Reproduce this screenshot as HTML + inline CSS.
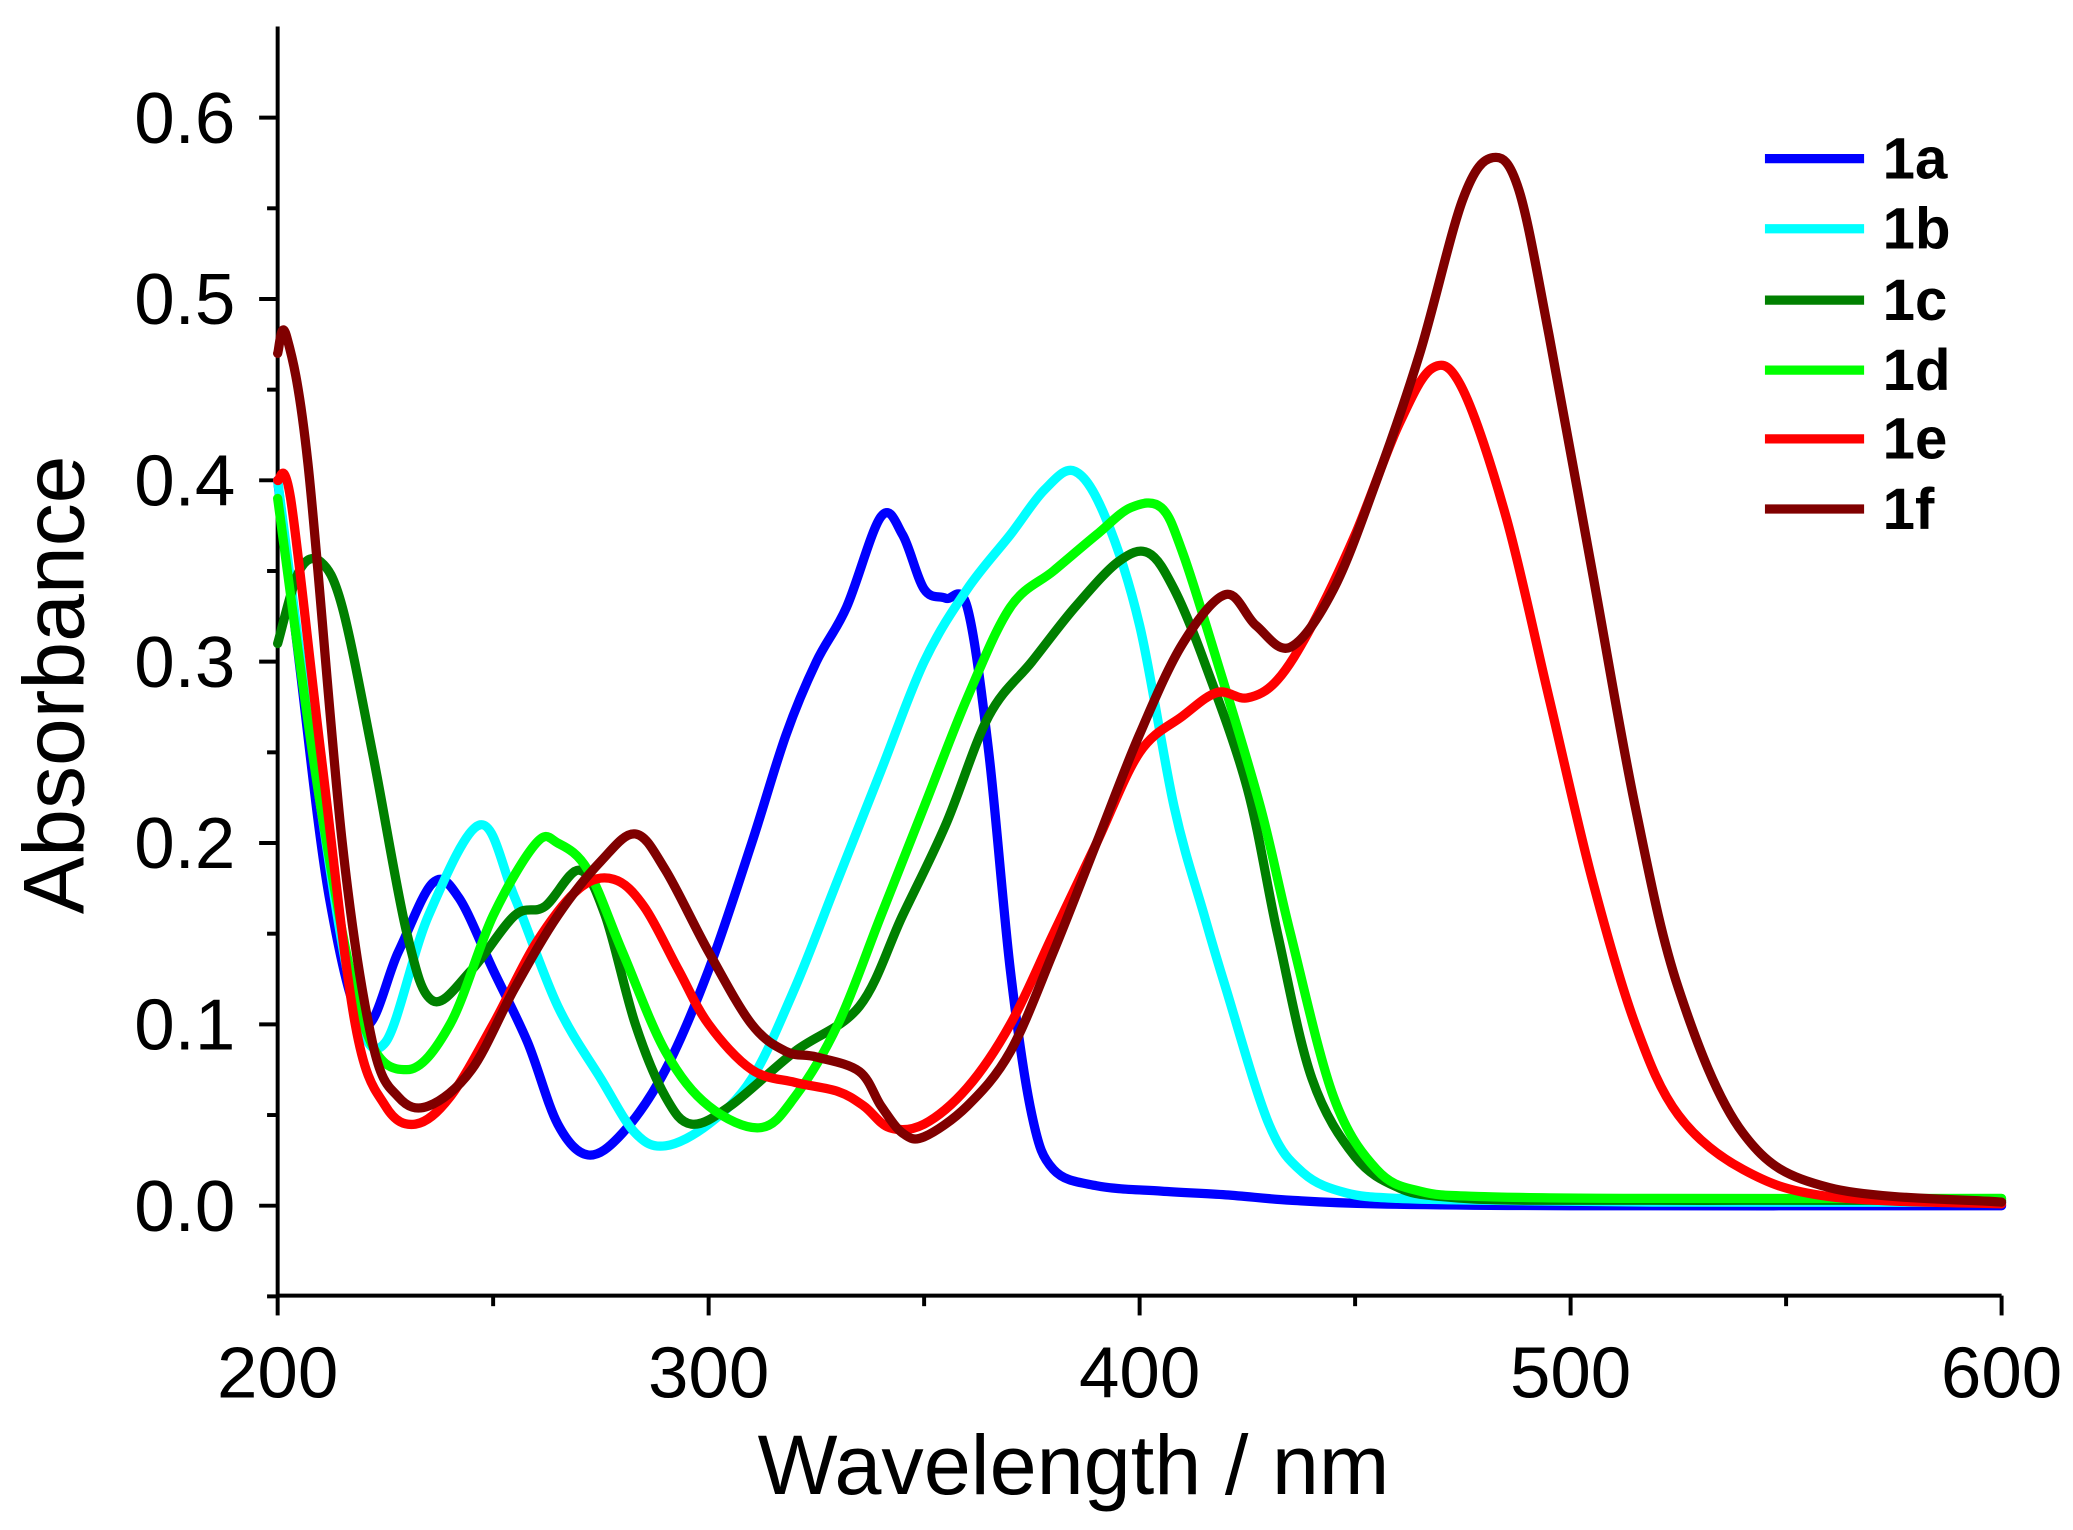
<!DOCTYPE html>
<html><head><meta charset="utf-8"><style>
html,body{margin:0;padding:0;background:#fff;}
svg{display:block;}
text{font-family:"Liberation Sans",Arial,sans-serif;fill:#000;}
</style></head><body>
<svg id="s" width="2073" height="1530" viewBox="0 0 1568 1157.3" xmlns="http://www.w3.org/2000/svg">
<g id="axes" stroke="#000" stroke-width="3" fill="none"></g>
<g id="labels" font-size="55" text-anchor="end"></g>
<text x="812" y="1130" font-size="64" text-anchor="middle">Wavelength / nm</text>
<text transform="translate(63,518) rotate(-90)" font-size="65" text-anchor="middle">Absorbance</text>
<g id="curves" fill="none" stroke-width="7" stroke-linejoin="round" stroke-linecap="round"></g>
<g id="legend" font-size="44" font-weight="bold"></g>
</svg>
<script>
var NS="http://www.w3.org/2000/svg";
function X(n){return 210+(n-200)*3.26;}
function Y(a){return 912-a*1371.7;}
function el(p,t,at,txt){var e=document.createElementNS(NS,t);for(var k in at)e.setAttribute(k,at[k]);if(txt!==undefined)e.textContent=txt;p.appendChild(e);return e;}
var ax=document.getElementById('axes'),lb=document.getElementById('labels');
el(ax,'line',{x1:210,y1:20,x2:210,y2:981});
el(ax,'line',{x1:209,y1:980,x2:1514,y2:980});
for(var i=0;i<=6;i++){var y=Y(i/10);el(ax,'line',{x1:196,y1:y,x2:210,y2:y});el(lb,'text',{x:178,y:y+19},(i/10).toFixed(1));}
for(var i=-1;i<=12;i+=2){var y=Y(i/20);if(y>20)el(ax,'line',{x1:202,y1:y,x2:210,y2:y});}
for(var n=200;n<=600;n+=50){var x=X(n);var maj=n%100==0;el(ax,'line',{x1:x,y1:980,x2:x,y2:maj?995:988});if(maj)el(document.getElementById('s'),'text',{x:x,y:1057,'font-size':55,'text-anchor':'middle'},n);}
var D={
'#0000ff':[200,0.40,205,0.3,212,0.17,220,0.1,228,0.14,236,0.178,242,0.17,250,0.13,258,0.09,265,0.045,272,0.028,280,0.04,290,0.075,300,0.13,310,0.2,318,0.26,325,0.3,332,0.33,340,0.38,345,0.37,350,0.34,355,0.335,360,0.33,365,0.25,370,0.13,375,0.05,380,0.02,390,0.011,405,0.008,420,0.006,435,0.003,455,0.001,500,0.0,600,0],
'#00ffff':[200,0.4,210,0.22,218,0.11,225,0.09,235,0.16,247,0.21,255,0.17,265,0.11,275,0.07,283,0.04,290,0.033,300,0.045,310,0.07,320,0.12,330,0.18,340,0.24,350,0.3,360,0.34,370,0.37,378,0.395,385,0.405,392,0.38,400,0.32,408,0.22,415,0.16,420,0.12,430,0.045,438,0.018,448,0.007,460,0.004,480,0.003,520,0.002,600,0.002],
'#008000':[200,0.31,205,0.35,210,0.355,215,0.33,222,0.25,230,0.15,236,0.113,245,0.13,255,0.16,262,0.165,270,0.185,276,0.16,283,0.1,290,0.06,296,0.045,305,0.055,320,0.085,335,0.11,345,0.16,355,0.21,365,0.27,375,0.3,385,0.33,395,0.355,402,0.36,408,0.34,415,0.3,425,0.23,432,0.15,440,0.07,450,0.027,460,0.01,470,0.005,490,0.003,540,0.003,600,0.003],
'#00ff00':[200,0.39,210,0.22,220,0.1,230,0.075,240,0.1,250,0.16,260,0.2,265,0.2,272,0.185,280,0.14,290,0.085,300,0.055,312,0.043,320,0.06,330,0.1,340,0.16,350,0.22,360,0.28,370,0.33,380,0.35,390,0.37,398,0.385,405,0.385,410,0.36,418,0.3,428,0.22,435,0.15,445,0.06,455,0.02,465,0.008,480,0.005,520,0.004,600,0.004],
'#ff0000':[200,0.4,203,0.39,210,0.25,218,0.1,225,0.055,232,0.045,240,0.06,250,0.1,260,0.145,270,0.175,278,0.18,285,0.165,293,0.13,300,0.1,310,0.075,320,0.068,330,0.063,336,0.055,342,0.043,350,0.045,360,0.065,370,0.1,380,0.15,390,0.2,400,0.25,410,0.27,418,0.283,425,0.28,432,0.29,440,0.32,450,0.37,460,0.43,468,0.462,475,0.45,485,0.38,495,0.28,505,0.18,515,0.1,525,0.05,540,0.02,560,0.005,600,0.001],
'#800000':[200,0.47,202,0.48,207,0.41,215,0.2,222,0.09,228,0.06,235,0.055,245,0.075,255,0.12,265,0.16,275,0.19,283,0.205,290,0.185,300,0.14,310,0.1,318,0.085,325,0.082,335,0.074,340,0.055,345,0.04,350,0.038,360,0.055,370,0.085,380,0.14,390,0.2,400,0.26,410,0.31,420,0.337,427,0.32,435,0.308,445,0.34,455,0.4,465,0.47,475,0.555,482,0.578,488,0.56,495,0.48,505,0.35,515,0.22,525,0.12,540,0.04,560,0.01,600,0.002]};
var cv=document.getElementById('curves');
for(var c in D){var a=D[c],P=[];for(var i=0;i<a.length;i+=2)P.push([X(a[i]),Y(a[i+1])]);
var d='M'+P[0][0].toFixed(1)+' '+P[0][1].toFixed(1);
for(var i=0;i<P.length-1;i++){var p0=P[Math.max(0,i-1)],p1=P[i],p2=P[i+1],p3=P[Math.min(P.length-1,i+2)];
d+=' C'+(p1[0]+(p2[0]-p0[0])/6).toFixed(1)+' '+(p1[1]+(p2[1]-p0[1])/6).toFixed(1)+' '+(p2[0]-(p3[0]-p1[0])/6).toFixed(1)+' '+(p2[1]-(p3[1]-p1[1])/6).toFixed(1)+' '+p2[0].toFixed(1)+' '+p2[1].toFixed(1);}
el(cv,'path',{d:d,stroke:c});}
var lg=document.getElementById('legend'),names=['1a','1b','1c','1d','1e','1f'],cols=Object.keys(D),ys=[120,173,227,280,332,385];
for(var i=0;i<6;i++){el(lg,'line',{x1:1335,y1:ys[i],x2:1410,y2:ys[i],stroke:cols[i],'stroke-width':7});el(lg,'text',{x:1424,y:ys[i]+15},names[i]);}
</script>
</body></html>
